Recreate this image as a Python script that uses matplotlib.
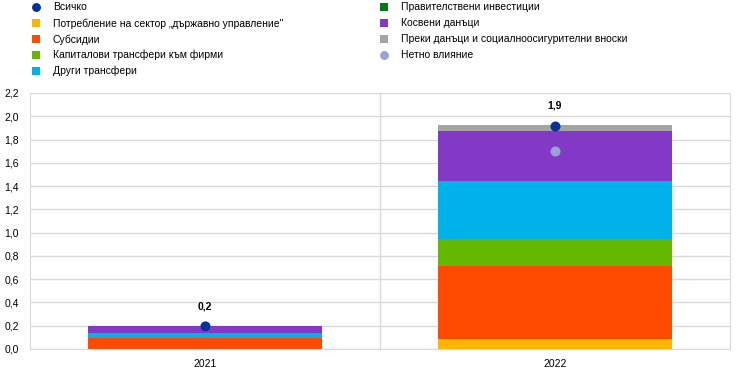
import numpy as np
import matplotlib.pyplot as plt
from matplotlib.lines import Line2D

plt.rcParams['font.family'] = ['Liberation Sans', 'DejaVu Sans']

years = ['2021', '2022']
total = [0.195, 1.92]
net = [0.195, 1.70]

bar_labels = [
    'Потребление на сектор „държавно управление"',
    'Субсидии',
    'Капиталови трансфери към фирми',
    'Други трансфери',
    'Правителствени инвестиции',
    'Косвени данъци',
    'Преки данъци и социалноосигурителни вноски',
]
bar_values = [
    [0.004, 0.086],   # потребление
    [0.093, 0.625],   # субсидии
    [0.0, 0.237],     # капиталови трансфери
    [0.040, 0.500],   # други трансфери
    [0.0, 0.0],       # инвестиции
    [0.058, 0.428],   # косвени данъци
    [0.0, 0.050],     # преки данъци
]
bar_colors = ['#FFB400', '#FF4B00', '#65B800', '#00B1EA', '#007816', '#8139C6', '#A5A5A5']
total_color = '#003299'
net_color = '#98A2D4'

yticks = np.arange(0, 2.21, 0.2)
fs = 7.5

fig = plt.figure(figsize=(7.44, 3.78), dpi=100)
ax = fig.add_axes([30 / 744, 29 / 378, 700 / 744, 256 / 378])

x = np.arange(len(years))
bottom = np.zeros(len(years))
for vals, col in zip(bar_values, bar_colors):
    ax.bar(x, vals, width=0.67, bottom=bottom, color=col, linewidth=0, zorder=2)
    bottom += np.array(vals)

ax.scatter(x, net, s=52, color=net_color, linewidths=0, zorder=3)
ax.scatter(x, total, s=52, color=total_color, linewidths=0, zorder=4)
for xi, t in zip(x, total):
    ax.annotate(f'{t:.1f}'.replace('.', ','), (xi, t), xytext=(0, 14.4),
                textcoords='offset points', ha='center', va='center',
                fontsize=fs, fontweight='bold')

ax.set_xlim(-0.5, 1.5)
ax.set_ylim(0, 2.2)
ax.set_yticks(yticks)
ax.set_yticklabels([f'{v:.1f}'.replace('.', ',') for v in yticks], fontsize=fs)
ax.set_xticks(x)
ax.set_xticklabels(years, fontsize=fs)
ax.tick_params(axis='both', length=0)
ax.tick_params(axis='y', pad=8)
ax.tick_params(axis='x', pad=7)
ax.grid(axis='y', color='#D9D9D9', linewidth=1, zorder=0)
ax.axvline(0.5, color='#D9D9D9', linewidth=1, zorder=0)
for side in ['left', 'right', 'bottom']:
    ax.spines[side].set_color('#D9D9D9')
ax.spines['top'].set_visible(False)

# legend, two columns
entries = [('Всичко', 'o', total_color)]
entries += [(lab, 's', col) for lab, col in zip(bar_labels, bar_colors)]
entries.append(('Нетно влияние', 'o', net_color))
col1 = entries[:5]
col2 = entries[5:]
row_px = [7.3, 23.3, 39.3, 55.0, 71.0]
for cx, items in [(35.7, col1), (384.3, col2)]:
    for (lab, mk, col), ry in zip(items, row_px):
        yy = 1 - ry / 378
        fig.add_artist(Line2D([cx / 744], [yy], marker=mk, color=col,
                              markersize=6.4 if mk == 'o' else 6.0, linestyle='none',
                              markeredgewidth=0, transform=fig.transFigure))
        fig.text((cx + 17) / 744, yy, lab, fontsize=fs, va='center', ha='left')

fig.savefig('out.png', dpi=100)
